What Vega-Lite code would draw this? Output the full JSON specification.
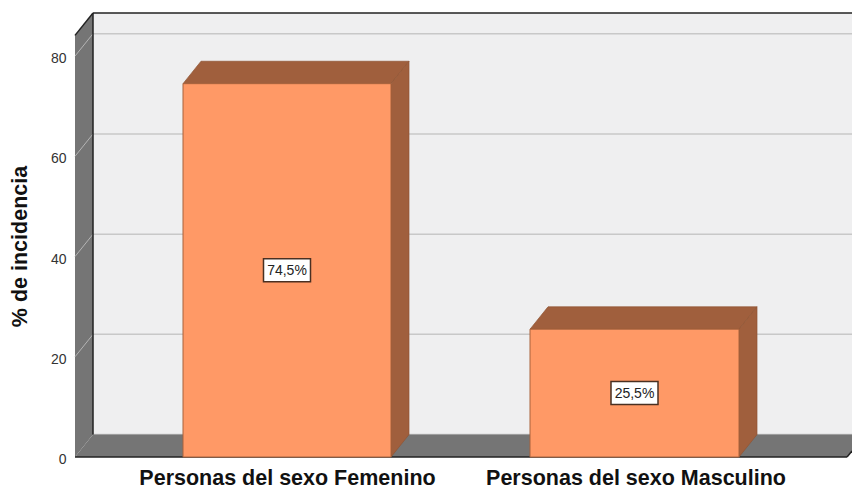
{
"$schema":"https://vega.github.io/schema/vega-lite/v6.json",
"width":777,"height":444,"autosize":{"type":"none"},
"padding":{"left":75,"top":13,"right":0,"bottom":31},
"background":"#ffffff",
"view":{"stroke":null},
"config":{"font":"Liberation Sans"},
"datasets":{
"backwall":[{"x":18,"x2":777,"y":4.47,"y2":88.6}],
"grid":[
{"x":18,"x2":777,"y":4.47,"y2":4.47},
{"x":18,"x2":777,"y":24.47,"y2":24.47},
{"x":18,"x2":777,"y":44.47,"y2":44.47},
{"x":18,"x2":777,"y":64.47,"y2":64.47},
{"x":18,"x2":777,"y":84.47,"y2":84.47}],
"leftwall":[{"x":0,"y":0,"y2":84.13},{"x":18,"y":4.47,"y2":88.6}],
"wallgrid":[
{"x":0,"x2":18,"y":20,"y2":24.47},
{"x":0,"x2":18,"y":40,"y2":44.47},
{"x":0,"x2":18,"y":60,"y2":64.47},
{"x":0,"x2":18,"y":80,"y2":84.47}],
"floor":[{"y":0,"x":0,"x2":772},{"y":4.47,"x":18,"x2":790}],
"outline":[
{"x":18,"x2":18,"y":4.47,"y2":88.6},
{"x":18,"x2":777,"y":88.6,"y2":88.6},
{"x":0,"x2":18,"y":84.13,"y2":88.6},
{"x":0,"x2":772,"y":0,"y2":0},
{"x":772,"x2":777,"y":0,"y2":1.2}],
"tops":[
{"categoria":"Femenino","y":74.5,"x":108,"x2":316},
{"categoria":"Femenino","y":78.97,"x":126,"x2":334},
{"categoria":"Masculino","y":25.5,"x":455,"x2":664},
{"categoria":"Masculino","y":29.97,"x":473,"x2":682}],
"sides":[
{"categoria":"Femenino","x":316,"y":0,"y2":74.5},
{"categoria":"Femenino","x":334,"y":4.47,"y2":78.97},
{"categoria":"Masculino","x":664,"y":0,"y2":25.5},
{"categoria":"Masculino","x":682,"y":4.47,"y2":29.97}],
"bars":[
{"categoria":"Femenino","x":108,"x2":316,"y":0,"y2":74.5},
{"categoria":"Masculino","x":455,"x2":664,"y":0,"y2":25.5}],
"labels":[
{"etiqueta":"74,5%","x":212,"y":37.25},
{"etiqueta":"25,5%","x":559.5,"y":12.75}]
},
"encoding":{
"x":{"field":"x","type":"quantitative","stack":null,"scale":{"domain":[0,777],"nice":false,"zero":false},
"axis":{"title":null,"domain":false,"ticks":false,"grid":false,"values":[212,560.5],"labelExpr":"datum.value < 300 ? 'Personas del sexo Femenino' : 'Personas del sexo Masculino'","labelFontSize":21.5,"labelFontWeight":"bold","labelColor":"#111111","labelPadding":10,"labelLimit":0,"labelOverlap":false,"labelFlush":false,"labelBound":false}},
"y":{"field":"y","type":"quantitative","stack":null,"scale":{"domain":[0,88.6],"nice":false,"zero":false},
"axis":{"title":"% de incidencia","titleFontSize":21.5,"titleFontWeight":"bold","titleColor":"#111111","titleX":-55,"titleY":233,"titleBaseline":"middle","domain":false,"ticks":false,"grid":false,"values":[0,20,40,60,80],"labelFontSize":14,"labelColor":"#333333","labelPadding":9,"labelOffset":2.5}}
},
"layer":[
{"data":{"name":"backwall"},"mark":{"type":"rect","fill":"#efeff0"},"encoding":{"x2":{"field":"x2"},"y2":{"field":"y2"}}},
{"data":{"name":"grid"},"mark":{"type":"rule","stroke":"#c8c8c8","strokeWidth":1.5},"encoding":{"x2":{"field":"x2"},"y2":{"field":"y2"}}},
{"data":{"name":"leftwall"},"mark":{"type":"area","fill":"#757575","interpolate":"linear"},"encoding":{"y2":{"field":"y2"}}},
{"data":{"name":"wallgrid"},"mark":{"type":"rule","stroke":"#b4b4b4","strokeWidth":1},"encoding":{"x2":{"field":"x2"},"y2":{"field":"y2"}}},
{"data":{"name":"floor"},"mark":{"type":"area","orient":"horizontal","fill":"#757575","clip":true},"encoding":{"x2":{"field":"x2"}}},
{"data":{"name":"outline"},"mark":{"type":"rule","stroke":"#222222","strokeWidth":1.5},"encoding":{"x2":{"field":"x2"},"y2":{"field":"y2"}}},
{"data":{"name":"tops"},"mark":{"type":"area","orient":"horizontal","fill":"#a05f3d","stroke":"#8f5434","strokeWidth":0.7},"encoding":{"x2":{"field":"x2"},"detail":{"field":"categoria"}}},
{"data":{"name":"sides"},"mark":{"type":"area","fill":"#a05f3d","stroke":"#8f5434","strokeWidth":0.7},"encoding":{"y2":{"field":"y2"},"detail":{"field":"categoria"}}},
{"data":{"name":"bars"},"mark":{"type":"rect","fill":"#ff9966","stroke":"#a8623c","strokeWidth":1},"encoding":{"x2":{"field":"x2"},"y2":{"field":"y2"}}},
{"data":{"name":"labels"},"mark":{"type":"rect","width":47,"height":23,"fill":"#ffffff","stroke":"#4a3022","strokeWidth":1.5}},
{"data":{"name":"labels"},"mark":{"type":"text","fontSize":14,"dy":1,"fill":"#222222","align":"center","baseline":"middle"},"encoding":{"text":{"field":"etiqueta"}}}
]
}
